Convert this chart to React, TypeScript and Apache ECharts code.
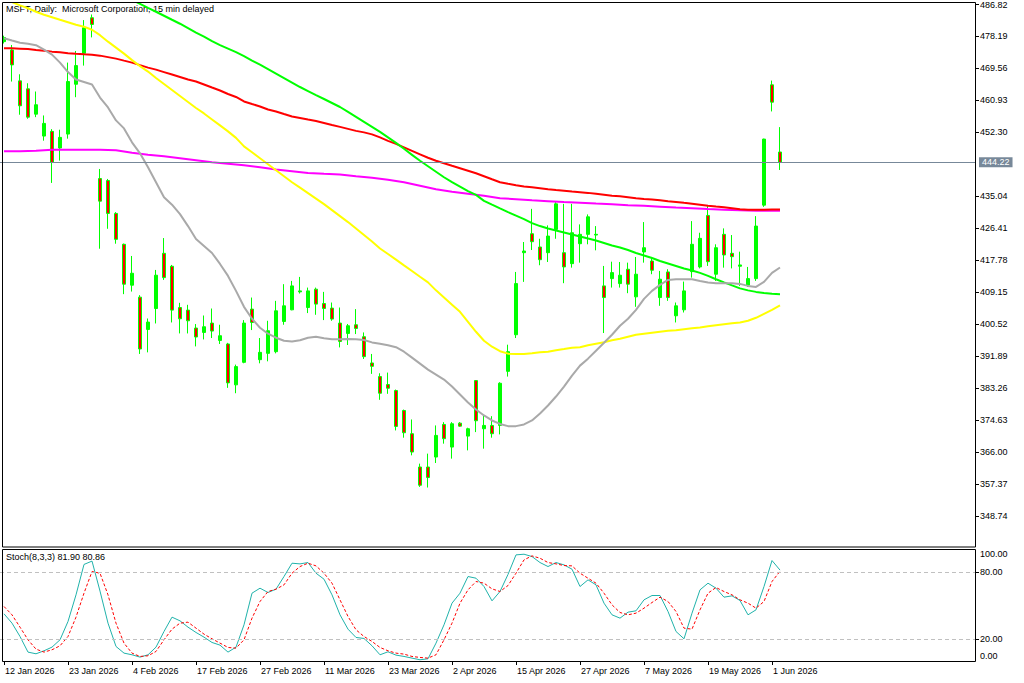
import React, { useEffect, useRef } from "react";
import * as echarts from "echarts";

const FONT = "'Liberation Sans', Arial, sans-serif";

const dates = [
  "12 Jan 2026","13 Jan 2026","14 Jan 2026","15 Jan 2026","16 Jan 2026","20 Jan 2026","21 Jan 2026","22 Jan 2026","23 Jan 2026","26 Jan 2026","27 Jan 2026","28 Jan 2026","29 Jan 2026","30 Jan 2026",
  "2 Feb 2026","3 Feb 2026","4 Feb 2026","5 Feb 2026","6 Feb 2026","9 Feb 2026","10 Feb 2026","11 Feb 2026","12 Feb 2026","13 Feb 2026","17 Feb 2026","18 Feb 2026","19 Feb 2026","20 Feb 2026","23 Feb 2026","24 Feb 2026","25 Feb 2026","26 Feb 2026","27 Feb 2026",
  "2 Mar 2026","3 Mar 2026","4 Mar 2026","5 Mar 2026","6 Mar 2026","9 Mar 2026","10 Mar 2026","11 Mar 2026","12 Mar 2026","13 Mar 2026","16 Mar 2026","17 Mar 2026","18 Mar 2026","19 Mar 2026","20 Mar 2026","23 Mar 2026","24 Mar 2026","25 Mar 2026","26 Mar 2026","27 Mar 2026","30 Mar 2026","31 Mar 2026",
  "1 Apr 2026","2 Apr 2026","6 Apr 2026","7 Apr 2026","8 Apr 2026","9 Apr 2026","10 Apr 2026","13 Apr 2026","14 Apr 2026","15 Apr 2026","16 Apr 2026","17 Apr 2026","20 Apr 2026","21 Apr 2026","22 Apr 2026","23 Apr 2026","24 Apr 2026","27 Apr 2026","28 Apr 2026","29 Apr 2026","30 Apr 2026",
  "1 May 2026","4 May 2026","5 May 2026","6 May 2026","7 May 2026","8 May 2026","11 May 2026","12 May 2026","13 May 2026","14 May 2026","15 May 2026","18 May 2026","19 May 2026","20 May 2026","21 May 2026","22 May 2026","26 May 2026","27 May 2026","28 May 2026","29 May 2026",
  "1 Jun 2026","2 Jun 2026",
];

const opens = [
  476.8,474.55,466.21,464.06,457.23,451.31,452.58,448.08,451.85,465.3,473.64,483.24,439.85,439.31,430.44,422.1,411.07,407.84,399.12,404.77,
  419.67,416.18,405.04,404.34,399.5,398.32,400.84,396.16,395.2,384.17,390.25,404.61,390.97,392.67,393.12,401.28,404.42,409.26,405.04,409.99,
  406.12,404.88,400.84,398.05,400.39,397.16,390.08,386.4,384.25,382.63,377.25,370.98,362.0,362.0,364.69,373.49,367.38,373.84,370.34,385.32,
  372.33,373.22,373.22,387.82,397.7,419.84,424.95,421.37,419.84,426.13,419.84,416.88,422.26,424.79,424.6,410.88,412.84,411.5,415.37,407.92,
  420.03,417.6,407.73,414.64,402.81,404.42,414.73,415.99,429.9,414.03,424.79,419.67,416.18,411.07,412.84,432.67,465.14,447.01,
];
const highs = [
  478.4,475.9,467.99,465.57,463.34,456.88,453.19,453.03,471.14,474.28,482.62,484.13,442.43,439.74,430.79,422.3,418.95,408.38,402.08,415.18,
  423.79,416.53,406.31,405.77,400.58,402.89,404.77,400.39,395.5,389.63,401.65,407.73,396.81,401.46,406.84,411.34,412.22,413.3,410.42,410.42,
  409.26,406.39,405.04,400.6,404.61,398.32,392.51,387.29,387.48,382.9,377.5,374.83,362.91,365.61,373.22,374.11,374.11,374.11,372.6,385.4,
  375.91,375.72,384.87,395.01,414.64,422.72,431.67,423.6,427.21,433.48,433.02,433.02,427.48,430.17,427.02,416.26,417.41,417.33,417.15,418.68,
  428.1,418.68,414.91,415.37,406.39,412.04,428.36,425.22,432.67,422.1,426.4,424.6,420.11,415.99,429.71,450.6,466.29,453.73,
];
const lows = [
  476.3,466.03,457.07,455.99,456.42,450.07,438.67,444.69,450.61,461.8,470.33,477.94,420.91,426.29,422.26,408.65,409.35,392.51,392.94,400.74,
  412.49,401.01,398.05,398.05,394.55,396.43,396.81,395.2,383.36,381.91,390.0,398.96,389.98,390.52,392.67,400.39,404.3,408.81,403.54,403.08,
  401.65,401.46,394.28,394.93,397.88,391.16,387.13,380.13,381.75,371.87,369.91,365.15,356.62,356.46,363.08,368.3,364.26,372.9,366.49,371.42,
  366.95,369.91,370.8,386.4,396.81,411.96,420.56,416.45,417.33,423.6,411.61,415.8,417.15,422.1,420.48,398.16,410.42,410.42,408.91,405.23,
  417.15,414.03,405.5,406.84,401.01,403.7,413.11,415.6,416.26,412.22,415.8,415.6,410.88,410.61,412.22,432.21,457.96,442.16,
];
const closes = [
  477.9,470.52,459.49,456.42,459.76,454.73,444.24,450.96,466.03,470.33,480.55,481.44,433.75,430.44,423.44,411.34,414.29,393.85,401.11,413.76,
  413.11,404.34,402.0,401.46,397.08,399.85,398.69,397.43,384.7,389.09,400.84,401.01,392.94,398.77,404.15,405.5,410.88,409.53,409.53,405.96,
  404.77,401.92,395.89,400.12,399.39,391.78,389.17,381.91,383.25,372.95,371.25,366.04,357.08,359.15,370.53,369.64,373.67,373.03,372.33,374.48,
  373.22,370.98,384.6,393.12,411.5,420.29,422.8,417.95,424.33,433.02,415.99,425.22,424.79,429.52,424.8,407.73,414.46,413.76,411.34,414.03,
  421.18,415.1,412.68,407.73,405.5,409.53,422.1,423.71,417.41,421.18,419.22,418.76,416.53,412.84,427.02,450.5,460.46,444.22,
];

const maGrey = [
  477.73,477.1,476.52,476.2,475.85,474.63,473.29,471.13,468.58,466.56,465.89,465.22,461.72,459.03,455.54,453.38,449.62,446.66,442.89,438.86,
  434.82,432.8,430.25,427.02,423.52,421.64,419.76,416.8,413.57,409.53,405.23,402.0,399.58,397.97,396.89,396.08,395.89,396.22,396.89,397.16,
  396.76,396.49,396.49,396.54,396.49,396.27,395.63,395.28,394.87,394.33,393.12,391.51,389.89,388.28,386.94,385.59,383.71,381.56,379.4,377.52,
  375.91,374.56,373.62,373.03,373.03,373.49,374.56,376.44,378.6,381.02,383.71,386.67,389.36,391.24,393.39,395.54,397.7,400.12,402.0,404.42,
  407.38,409.53,411.15,412.49,412.68,412.68,412.68,412.22,411.82,411.6,411.6,411.6,411.42,410.88,410.61,411.96,414.38,415.85,
];
const maYellow = [
  488.3,487.5,486.6,485.8,484.86,484.05,483.38,482.7,482.03,481.36,480.82,480.01,478.54,476.79,475.17,473.56,471.81,470.19,468.72,466.97,
  465.35,463.74,462.13,460.51,458.9,457.42,455.8,454.19,452.58,450.83,448.54,446.93,445.31,443.7,442.08,440.47,438.86,437.38,435.9,434.42,
  432.94,431.32,429.71,428.1,426.35,424.6,422.85,420.97,419.49,417.95,416.42,414.91,413.35,411.82,409.67,407.76,405.82,403.88,401.19,398.5,
  396.08,394.47,393.26,392.59,392.51,392.51,392.72,392.94,393.12,393.53,393.85,394.2,394.33,394.87,395.28,395.68,396.22,396.62,397.16,397.7,
  397.97,398.24,398.51,398.77,398.91,399.18,399.45,399.66,399.98,400.25,400.52,400.79,401.01,401.46,402.27,403.35,404.42,405.63,
];
const maGreen = [
  null,null,null,null,null,null,null,null,null,null,null,null,null,null,490.96,489.16,488.08,487.01,485.93,484.86,
  483.78,482.7,481.63,480.42,479.21,478.13,476.92,475.84,474.9,473.96,472.89,471.67,470.6,469.39,468.18,466.97,465.76,464.55,463.47,462.39,
  461.32,460.24,459.16,457.82,456.48,455.13,453.79,452.44,450.96,449.48,447.87,446.25,444.64,443.16,441.68,440.2,438.86,437.65,436.44,435.44,
  433.83,432.8,431.78,430.78,429.84,428.9,427.82,427.02,426.35,425.81,425.27,424.73,424.19,423.66,423.12,422.45,421.77,421.24,420.56,419.76,
  419.09,418.41,417.6,416.93,416.26,415.59,415.05,414.38,413.57,412.68,411.82,411.01,410.21,409.67,409.26,408.99,408.78,408.64,
];
const maRed = [
  474.98,474.98,474.9,474.82,474.55,474.37,474.1,473.91,473.69,473.5,473.37,473.29,473.02,472.62,472.21,471.67,471.14,470.46,469.79,469.25,
  468.58,467.91,467.24,466.56,466.03,465.22,464.41,463.61,462.66,461.86,460.65,459.97,459.3,458.49,457.96,457.28,456.61,456.21,455.8,455.4,
  454.86,454.32,453.79,453.25,452.71,452.31,451.77,450.96,450.02,449.21,448.27,447.33,446.39,445.45,444.64,443.97,443.29,442.62,441.95,441.28,
  440.47,439.66,438.86,438.45,438.05,437.73,437.51,437.24,436.97,436.76,436.57,436.35,436.17,435.98,435.76,435.49,435.22,435.09,434.82,434.55,
  434.34,434.2,434.01,433.75,433.53,433.29,433.07,432.8,432.53,432.32,432.13,431.86,431.59,431.4,431.4,431.46,431.51,431.51,
];
const maMagenta = [
  447.2,null,447.2,null,447.33,null,447.65,null,447.65,null,447.65,null,447.65,null,447.46,null,446.79,null,446.25,null,
  445.85,null,445.31,null,444.77,null,444.24,null,443.83,null,443.43,null,442.89,null,442.27,null,441.82,null,441.36,null,
  441.14,null,440.93,null,440.47,null,440.07,null,439.53,null,438.86,null,437.92,null,436.97,null,436.3,null,435.76,null,
  435.22,null,434.55,null,434.28,null,433.96,null,433.75,null,433.53,null,433.32,null,433.1,null,432.89,null,432.67,null,
  432.48,null,432.27,null,432.05,null,431.86,null,431.65,null,431.46,null,431.27,null,431.13,null,431.13,431.13,
];

const stochMain = [
  42.5,34.1,22.1,8.0,6.5,9.2,12.5,19.1,35.6,59.6,87.0,90.0,63.0,34.1,13.1,7.1,5.6,3.5,5.6,12.5,
  26.6,39.5,36.2,30.5,25.7,21.5,16.7,14.3,8.0,12.5,32.6,61.1,65.6,61.7,64.7,76.1,88.1,87.5,88.7,79.1,
  73.7,59.6,41.6,28.7,21.2,20.3,13.7,5.6,8.3,5.3,4.1,2.6,1.1,2.0,16.1,32.6,52.1,61.1,76.1,74.6,
  67.1,54.2,62.6,78.0,95.6,96.2,94.1,88.7,85.1,88.7,86.6,82.7,67.1,73.1,68.6,52.1,41.6,38.6,44.0,45.2,
  55.1,59.0,59.0,44.6,26.6,20.0,43.1,64.1,70.1,65.6,57.5,58.7,54.5,41.6,46.1,67.1,90.5,81.9,
];
const stochSignal = [
  49.1,41.6,30.5,19.1,10.7,8.0,10.1,13.7,22.1,39.5,61.1,80.6,79.1,59.6,34.1,16.1,7.1,4.1,4.7,8.6,
  19.1,28.7,34.1,35.0,29.6,24.2,20.0,16.1,12.2,11.6,19.1,38.6,53.6,62.6,64.7,68.6,79.1,85.1,88.1,85.7,
  79.1,70.1,55.1,40.1,28.1,22.1,17.6,12.2,9.2,7.1,6.2,4.1,3.2,2.6,5.6,19.1,34.1,52.1,64.1,71.6,
  70.1,65.0,62.6,68.0,79.1,91.1,94.7,92.6,88.7,87.5,86.0,85.7,79.1,74.6,70.1,61.1,50.6,43.7,41.6,43.1,
  47.6,52.7,57.5,53.6,44.6,29.6,28.7,46.1,61.1,66.2,62.6,59.6,55.1,52.1,47.6,53.6,71.6,80.86,
];

const priceTicks = [486.82,478.19,469.56,460.93,452.3,435.04,426.41,417.78,409.15,400.52,391.89,383.26,374.63,366.0,357.37,348.74];
const stochTicks = [100, 80, 20, 0];
const stochLevels = [80, 20];
const currentPrice = 444.22;
const futureSlots = 24;
const titleText = "MSFT, Daily:  Microsoft Corporation, 15 min delayed";

export default function App() {
  const ref = useRef<HTMLDivElement>(null);
  useEffect(() => {
    if (!ref.current) return;
    const chart = echarts.init(ref.current, undefined, { renderer: "svg" });
    const cats = [...dates, ...Array.from({ length: futureSlots }, (_, k) => `next ${k + 1}`)];
    const showAt = (index: number) => index < dates.length && index % 8 === 0;
    const candles = dates.map((_, i) => [opens[i], closes[i], lows[i], highs[i]]);
    const maLine = (data: (number | null)[], color: string) => ({
      type: "line",
      xAxisIndex: 0,
      yAxisIndex: 0,
      data,
      symbol: "none",
      showSymbol: false,
      connectNulls: true,
      silent: true,
      z: 3,
      lineStyle: { color, width: 2 },
    });
    const lastMain = stochMain[stochMain.length - 1];
    const lastSig = stochSignal[stochSignal.length - 1];
    const option: any = {
      animation: false,
      backgroundColor: "#ffffff",
      textStyle: { fontFamily: FONT },
      grid: [
        { left: -2, top: 2, width: 978, height: 545 },
        { left: -2, top: 550, width: 978, height: 111 },
      ],
      xAxis: [
        { type: "category", gridIndex: 0, data: cats, boundaryGap: true, show: false },
        {
          type: "category",
          gridIndex: 1,
          data: cats,
          boundaryGap: true,
          axisLine: { show: false },
          axisTick: {
            show: true,
            alignWithLabel: true,
            interval: (i: number) => showAt(i),
            length: 4,
            lineStyle: { color: "#000" },
          },
          axisLabel: {
            interval: (i: number) => showAt(i),
            align: "left",
            color: "#000",
            fontSize: 9,
            fontFamily: FONT,
            margin: 5,
            padding: [0, 0, 0, 1],
          },
          splitLine: { show: false },
        },
      ],
      yAxis: [
        {
          type: "value",
          gridIndex: 0,
          position: "right",
          min: 340.41,
          max: 487.01,
          splitLine: { show: false },
          axisLine: { show: false },
          axisTick: { show: true, length: 3, customValues: priceTicks, lineStyle: { color: "#000" } },
          axisLabel: {
            customValues: priceTicks,
            formatter: (v: number) => v.toFixed(2),
            color: "#000",
            fontSize: 9,
            fontFamily: FONT,
            margin: 4,
          },
        },
        {
          type: "value",
          gridIndex: 1,
          position: "right",
          min: 0,
          max: 100,
          splitLine: { show: false },
          axisLine: { show: false },
          axisTick: { show: true, length: 3, customValues: stochLevels, lineStyle: { color: "#000" } },
          axisLabel: {
            customValues: stochTicks,
            formatter: (v: number) =>
              v === 100 ? "{top|100.00}" : v === 0 ? "{bot|0.00}" : v.toFixed(2),
            color: "#000",
            fontSize: 9,
            fontFamily: FONT,
            margin: 4,
            rich: {
              top: { padding: [8, 0, 0, 0], fontSize: 9, fontFamily: FONT, color: "#000" },
              bot: { padding: [0, 0, 10, 0], fontSize: 9, fontFamily: FONT, color: "#000" },
            },
          },
        },
      ],
      series: [
        {
          type: "candlestick",
          xAxisIndex: 0,
          yAxisIndex: 0,
          data: candles,
          barWidth: 4,
          silent: true,
          z: 2,
          itemStyle: {
            color: "#00ff00",
            color0: "#ff0000",
            borderColor: "#00ff00",
            borderColor0: "#00ff00",
            borderWidth: 1,
          },
          markLine: {
            silent: true,
            symbol: ["none", "none"],
            animation: false,
            lineStyle: { color: "#778899", width: 1, type: "solid" },
            label: {
              show: true,
              position: "end",
              distance: 3,
              formatter: currentPrice.toFixed(2),
              backgroundColor: "#778899",
              color: "#ffffff",
              fontSize: 9,
              fontFamily: FONT,
              lineHeight: 10,
              padding: [0, 3, 0, 3],
            },
            data: [{ yAxis: currentPrice }],
          },
        },
        maLine(maMagenta, "#ff00ff"),
        maLine(maRed, "#ff0000"),
        maLine(maGreen, "#00ff00"),
        maLine(maYellow, "#ffff00"),
        maLine(maGrey, "#a9a9a9"),
        {
          type: "line",
          xAxisIndex: 1,
          yAxisIndex: 1,
          data: stochMain,
          symbol: "none",
          silent: true,
          z: 3,
          lineStyle: { color: "#20b2aa", width: 1 },
          markLine: {
            silent: true,
            symbol: ["none", "none"],
            animation: false,
            lineStyle: { color: "#c0c0c0", width: 1, type: [4, 3] },
            label: { show: false },
            data: stochLevels.map((v) => ({ yAxis: v })),
          },
        },
        {
          type: "line",
          xAxisIndex: 1,
          yAxisIndex: 1,
          data: stochSignal,
          symbol: "none",
          silent: true,
          z: 3,
          lineStyle: { color: "#ff0000", width: 1, type: [3, 2] },
        },
      ],
      graphic: [
        {
          type: "text",
          left: 6,
          top: 4,
          z: 0,
          style: { text: titleText, fill: "#000", font: `9px ${FONT}` },
        },
        {
          type: "text",
          left: 6,
          top: 552,
          z: 0,
          style: {
            text: `Stoch(8,3,3) ${lastMain.toFixed(2)} ${lastSig.toFixed(2)}`,
            fill: "#000",
            font: `9px ${FONT}`,
          },
        },
        {
          type: "rect",
          z: 10,
          silent: true,
          shape: { x: 2.5, y: 2.5, width: 973, height: 544.5 },
          style: { fill: "none", stroke: "#000", lineWidth: 1 },
        },
        {
          type: "rect",
          z: 10,
          silent: true,
          shape: { x: 2.5, y: 549.5, width: 973, height: 112 },
          style: { fill: "none", stroke: "#000", lineWidth: 1 },
        },
      ],
    };
    chart.setOption(option);
    return () => chart.dispose();
  }, []);
  return (
    <div
      ref={ref}
      style={{ position: "fixed", left: 0, top: 0, width: 1024, height: 683, background: "#fff" }}
    />
  );
}
